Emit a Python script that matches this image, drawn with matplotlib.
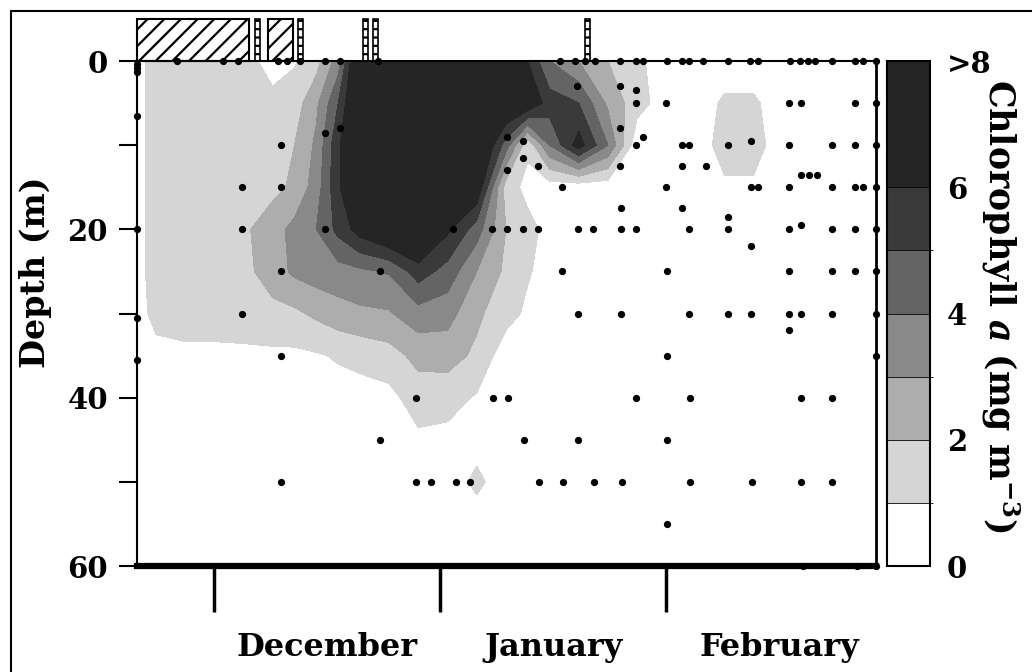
import matplotlib
matplotlib.use("Agg")
import matplotlib.pyplot as plt
import matplotlib.transforms as mtransforms
from matplotlib.colors import ListedColormap, BoundaryNorm
from matplotlib.cm import ScalarMappable
from matplotlib.patches import Rectangle
from matplotlib.lines import Line2D
import numpy as np

plt.rcParams['font.family'] = 'DejaVu Serif'
plt.rcParams['font.weight'] = 'bold'
plt.rcParams['mathtext.fontset'] = 'dejavuserif'
plt.rcParams['hatch.linewidth'] = 1.6

# time axis = days after 1 December
grid_day = [-10.6, -8, -4, 0, 4, 8, 11, 14, 17, 20, 24, 28, 32, 36, 40, 43, 46,
            50, 54, 58, 62, 66, 70, 74, 78, 84, 90.8]
grid_depth = [0, 5, 10, 15, 20, 25, 30, 35, 40, 45, 50, 55, 60]

# chlorophyll a (mg m-3), one row per depth
chl_0 = [0.6, 1.5, 1.6, 1.6, 1.3, 0.7, 0.9, 1.6, 3.5, 8, 9, 9, 9, 9, 7, 6, 4.0,
         3.0, 2.0, 1.2, 0.5, 0.3, 0.3, 0.3, 0.3, 0.3, 0.3]
chl_5 = [0.6, 1.5, 1.6, 1.6, 1.6, 1.2, 1.5, 2.8, 5.0, 8, 9, 9, 9, 9, 7.5, 7, 5.5,
         5.0, 2.8, 1.4, 0.5, 0.3, 1.2, 1.2, 0.3, 0.3, 0.3]
chl_10 = [0.6, 1.5, 1.6, 1.6, 1.6, 1.6, 2.0, 3.2, 5.8, 8, 9, 9, 9, 8, 4.5, 1.2, 4.0,
          6.5, 4.0, 0.3, 0.3, 0.3, 1.5, 1.5, 0.3, 0.3, 0.3]
chl_15 = [0.6, 1.5, 1.6, 1.6, 1.7, 1.7, 2.2, 3.5, 5.8, 8, 9, 9, 8, 7, 1.5, 0.7, 0.5,
          0.4, 0.4, 0.3, 0.3, 0.3, 0.8, 0.8, 0.3, 0.3, 0.3]
chl_20 = [0.6, 1.5, 1.6, 1.6, 1.8, 2.6, 3.3, 4.0, 5.3, 6.5, 7.5, 8, 6.2, 4.5, 2.0, 1.3, 0.7,
          0.3, 0.3, 0.3, 0.3, 0.3, 0.3, 0.3, 0.3, 0.3, 0.3]
chl_25 = [0.6, 1.5, 1.6, 1.6, 1.7, 2.5, 3.2, 3.5, 3.6, 3.8, 4.1, 5.5, 4.6, 3.0, 1.8, 1.1, 0.6,
          0.3, 0.3, 0.3, 0.3, 0.3, 0.3, 0.3, 0.3, 0.3, 0.3]
chl_30 = [0.6, 1.3, 1.4, 1.4, 1.5, 1.7, 1.8, 2.2, 2.6, 2.8, 2.9, 3.6, 3.4, 2.2, 1.4, 0.8, 0.4,
          0.3, 0.3, 0.3, 0.3, 0.3, 0.3, 0.3, 0.3, 0.3, 0.3]
chl_35 = [0.4, 0.7, 0.8, 0.8, 0.8, 0.8, 0.8, 0.9, 1.1, 1.3, 1.6, 2.3, 2.4, 1.8, 0.4, 0.3, 0.3,
          0.3, 0.3, 0.3, 0.3, 0.3, 0.3, 0.3, 0.3, 0.3, 0.3]
chl_40 = [0.3, 0.4, 0.5, 0.5, 0.5, 0.6, 0.6, 0.6, 0.6, 0.6, 0.7, 1.5, 1.4, 0.9, 0.3, 0.3, 0.3,
          0.3, 0.3, 0.3, 0.3, 0.3, 0.3, 0.3, 0.3, 0.3, 0.3]
chl_45 = [0.3, 0.3, 0.3, 0.3, 0.3, 0.3, 0.3, 0.3, 0.3, 0.3, 0.3, 0.8, 0.7, 0.5, 0.3, 0.3, 0.3,
          0.3, 0.3, 0.3, 0.3, 0.3, 0.3, 0.3, 0.3, 0.3, 0.3]
chl_50 = [0.3, 0.3, 0.3, 0.3, 0.3, 0.3, 0.3, 0.3, 0.3, 0.3, 0.3, 0.3, 0.3, 1.3, 0.3, 0.3, 0.3,
          0.3, 0.3, 0.3, 0.3, 0.3, 0.3, 0.3, 0.3, 0.3, 0.3]
chl_55 = [0.3] * 27
chl_60 = [0.3] * 27
chl = np.array([chl_0, chl_5, chl_10, chl_15, chl_20, chl_25, chl_30, chl_35,
                chl_40, chl_45, chl_50, chl_55, chl_60])

# sampling points (day, depth)
sample_day = [-10.6, -10.6, -10.6, -10.6, -10.6, -10.6, -10.6,
              -5.1, 1.2, 3.3, 8.8, 10.0, 11.8, 15.2, 17.3, 22.5, 47.5, 49.5, 50.9, 52.3,
              55.7, 57.8, 58.8, 62.1, 64.2, 65.2, 67.1, 70.5, 73.5, 74.6, 79.0, 80.4,
              81.5, 82.4, 84.8, 87.9, 89.0,
              3.8, 3.8, 3.8, 9.1, 9.1, 9.1, 9.1, 9.2, 15.2, 17.3, 15.2, 22.8, 22.8,
              27.7, 27.7, 29.8, 33.1, 35.1, 32.8, 38.3, 38.1,
              40.2, 40.2, 40.2, 40.3, 42.4, 42.4, 42.4, 42.5, 44.4, 44.4, 44.6,
              47.7, 47.7, 47.9, 49.8, 49.9, 49.9, 49.9, 52.0, 52.1,
              55.7, 55.7, 55.7, 55.8, 55.8, 55.8, 56.0,
              57.8, 57.8, 57.8, 57.8, 57.9, 58.8,
              62.0, 62.0, 62.1, 62.1, 62.1, 62.1,
              64.2, 64.2, 64.2, 65.2, 65.2, 65.2, 65.3, 65.3, 67.4,
              70.5, 70.5, 70.5, 70.5, 73.7, 73.7, 73.7, 73.7, 73.8, 74.6,
              78.9, 78.9, 78.9, 78.9, 78.9, 78.9, 78.9,
              80.5, 80.5, 80.5, 80.5, 80.5, 80.5, 80.8, 81.6, 82.7,
              84.8, 84.8, 84.8, 84.8, 84.8, 84.8, 84.8,
              87.9, 87.9, 87.9, 87.9, 87.9, 88.2, 89.0,
              90.8, 90.8, 90.8, 90.8, 90.8, 90.8, 90.8, 90.8, 90.8]
sample_depth = [0.3, 0.8, 1.3, 6.5, 20, 30.5, 35.5,
                0, 0, 0, 0, 0, 0, 0, 0, 0, 0, 0, 0, 0,
                0, 0, 0, 0, 0, 0, 0, 0, 0, 0, 0, 0,
                0, 0, 0, 0, 0,
                15, 20, 30, 10, 15, 25, 35, 50, 8.5, 8, 20, 25, 45,
                40, 50, 50, 50, 50, 20, 40, 20,
                9, 13, 20, 40, 9.5, 11.5, 20, 45, 12.5, 20, 50,
                15, 25, 50, 3, 20, 30, 45, 20, 50,
                3, 8, 12.5, 17.5, 20, 30, 50,
                3.5, 5, 10, 20, 40, 9,
                5, 15, 25, 35, 45, 55,
                10, 12.5, 17.5, 10, 20, 30, 40, 50, 12.5,
                10, 18.5, 20, 30, 9.5, 15, 22, 30, 50, 15,
                5, 10, 15, 20, 25, 30, 32,
                5, 13.5, 19.5, 30, 40, 50, 60, 13.5, 13.5,
                10, 15, 20, 25, 30, 40, 50,
                5, 10, 15, 20, 25, 60, 15,
                0, 5, 10, 15, 20, 25, 30, 35, 60]

month_start = [0, 31, 62]
month_names = ['December', 'January', 'February']

# hatched periods and single events above the section
ice_start = [-10.6, 7.4]
ice_end = [4.7, 10.8]
event_day = [5.9, 11.8, 20.7, 22.1, 51.2]

chl_bounds = [0, 1, 2, 3, 4, 5, 6, 8]
chl_colors = ['#ffffff', '#d5d5d5', '#adadad', '#898989', '#646464', '#3a3a3a', '#252525']
chl_ticks = [0, 2, 4, 6, 8]
chl_ticklabels = ['0', '2', '4', '6', '>8']

fig = plt.figure(figsize=(10.32, 6.72), dpi=100)
ax = fig.add_axes([0.1328, 0.1577, 0.7161, 0.7515])

ax.contourf(grid_day, grid_depth, chl, levels=chl_bounds,
            colors=chl_colors + [chl_colors[-1]], extend='max')
ax.plot(sample_day, sample_depth, 'o', color='k', ms=4.2, clip_on=False, zorder=5)

ax.set_xlim(-10.6, 90.8)
ax.set_ylim(60, 0)

for side, lw in [('left', 1.5), ('top', 1.5), ('right', 2.0), ('bottom', 4.5)]:
    ax.spines[side].set_linewidth(lw)

ax.set_yticks([0, 20, 40, 60])
ax.set_yticks([10, 30, 50], minor=True)
ax.tick_params(axis='y', which='both', direction='out', length=13, width=1.5,
               labelsize=21, pad=8)
ax.set_xticks(month_start)
ax.set_xticklabels([])
ax.tick_params(axis='x', direction='out', length=33, width=2.5)

trans = mtransforms.blended_transform_factory(ax.transData, ax.transAxes)
for start, name in zip(month_start, month_names):
    ax.text(start + 15.5, -0.162, name, transform=trans, ha='center', va='center',
            fontsize=23, fontweight='bold')

bar_h = 0.083
for s, e in zip(ice_start, ice_end):
    ax.add_patch(Rectangle((s, 1.0), e - s, bar_h, transform=trans, fill=False,
                           hatch='//', lw=1.5, clip_on=False))
for d in event_day:
    ax.add_patch(Rectangle((d - 0.35, 1.0), 0.7, bar_h, transform=trans, fill=False,
                           hatch='--', lw=1.2, clip_on=False))

# colour key
cax = fig.add_axes([887 / 1032, 0.1577, 43 / 1032, 0.7515])
cmap = ListedColormap(chl_colors)
norm = BoundaryNorm(chl_bounds, cmap.N)
cb = fig.colorbar(ScalarMappable(norm=norm, cmap=cmap), cax=cax,
                  boundaries=chl_bounds, spacing='proportional', drawedges=True)
cb.set_ticks(chl_ticks)
cb.set_ticklabels(chl_ticklabels)
cax.tick_params(length=0, labelsize=21, pad=12)
cb.outline.set_linewidth(1.5)
cb.dividers.set_linewidth(0.6)

fig.text(0.034, 0.595, 'Depth (m)', rotation=90, ha='center', va='center',
         fontsize=24, fontweight='bold')
fig.text(0.969, 0.545, 'Chlorophyll $a$ (mg m$^{-3}$)', rotation=270,
         ha='center', va='center', fontsize=25, fontweight='bold')

# frame of the original figure
fig.add_artist(Line2D([0.011, 0.011], [0.0, 0.984], transform=fig.transFigure,
                      color='k', lw=1.5))
fig.add_artist(Line2D([0.011, 1.0], [0.984, 0.984], transform=fig.transFigure,
                      color='k', lw=1.5))

fig.savefig('out.png', dpi=100)
